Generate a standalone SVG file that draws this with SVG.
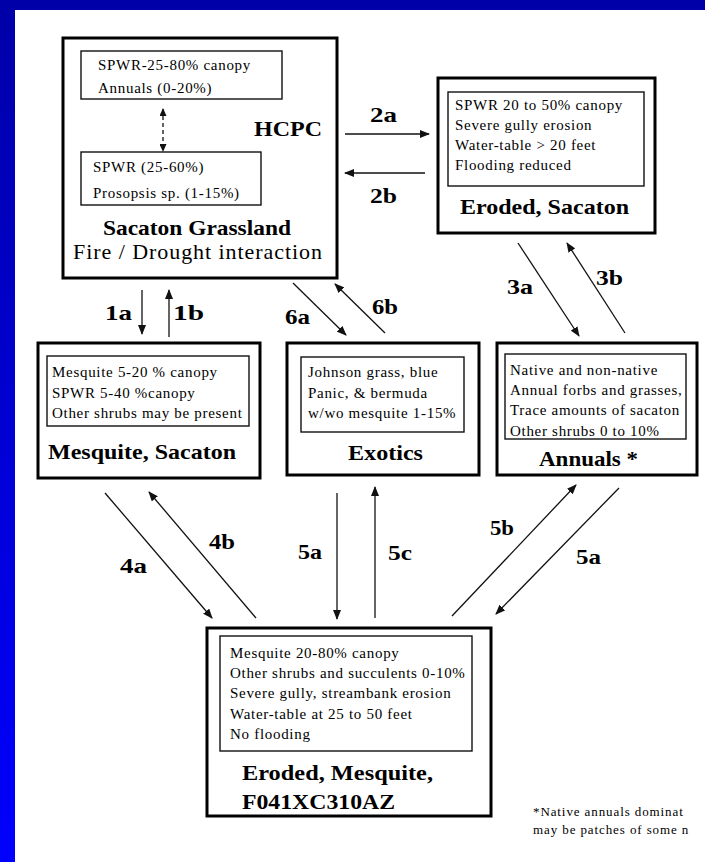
<svg xmlns="http://www.w3.org/2000/svg" width="705" height="862" viewBox="0 0 705 862">
<defs>
<linearGradient id="bg" x1="0" y1="0" x2="0" y2="1">
<stop offset="0" stop-color="#0000A8"/>
<stop offset="1" stop-color="#0000FF"/>
</linearGradient>
<marker id="ah" markerUnits="userSpaceOnUse" markerWidth="10" markerHeight="8" refX="9" refY="4" orient="auto">
<path d="M0,0 L10,4 L0,8 Z" fill="#111"/>
</marker>
<marker id="ahs" markerUnits="userSpaceOnUse" markerWidth="8" markerHeight="7" refX="7" refY="3.5" orient="auto-start-reverse">
<path d="M0,0 L8,3.5 L0,7 Z" fill="#111"/>
</marker>
<style>
.outer{fill:#fff;stroke:#000;stroke-width:3}
.inner{fill:#fff;stroke:#111;stroke-width:1.4}
.body{font-family:"Liberation Serif","Times New Roman",serif;font-size:15px;letter-spacing:0.7px;fill:#000}
.title{font-family:"Liberation Serif","Times New Roman",serif;font-weight:bold;font-size:21px;fill:#000}
.reg{font-family:"Liberation Serif","Times New Roman",serif;font-size:22px;fill:#000}
.lbl{font-family:"Liberation Serif","Times New Roman",serif;font-weight:bold;font-size:21px;fill:#000}
.conn{stroke:#111;stroke-width:1.3;fill:none;marker-end:url(#ah)}
.foot{font-family:"Liberation Serif","Times New Roman",serif;font-size:13px;letter-spacing:0.9px;fill:#000}
</style>
</defs>
<rect x="0" y="0" width="705" height="862" fill="url(#bg)"/>
<rect x="15" y="10" width="690" height="852" fill="#fff"/>

<g id="hcpc">
<rect class="outer" x="63" y="38" width="274" height="240"/>
<rect class="inner" x="81" y="51" width="201" height="48"/>
<text class="body" x="98" y="70">SPWR-25-80%  canopy</text>
<text class="body" x="98" y="93">Annuals (0-20%)</text>
<line x1="163" y1="109" x2="163" y2="151" stroke="#111" stroke-width="1.3" stroke-dasharray="4,3" marker-start="url(#ahs)" marker-end="url(#ahs)"/>
<rect class="inner" x="81" y="152" width="180" height="53"/>
<text class="body" x="93" y="172">SPWR (25-60%)</text>
<text class="body" x="93" y="198">Prosopsis sp. (1-15%)</text>
<text class="title" x="254" y="136" font-size="24" textLength="68" lengthAdjust="spacingAndGlyphs">HCPC</text>
<text class="title" x="103" y="235" font-size="20" textLength="188" lengthAdjust="spacingAndGlyphs">Sacaton Grassland</text>
<text class="reg" x="73" y="259" textLength="249">Fire / Drought interaction</text>
</g>

<g id="eroded-sacaton">
<rect class="outer" x="438" y="78" width="217" height="155"/>
<rect class="inner" x="448" y="92" width="196" height="94"/>
<text class="body" x="455" y="110">SPWR 20 to 50% canopy</text>
<text class="body" x="455" y="130">Severe gully erosion</text>
<text class="body" x="455" y="150">Water-table &gt; 20 feet</text>
<text class="body" x="455" y="170">Flooding reduced</text>
<text class="title" x="460" y="214" textLength="169" lengthAdjust="spacingAndGlyphs">Eroded, Sacaton</text>
</g>

<g id="mesquite-sacaton">
<rect class="outer" x="38" y="343" width="222" height="135"/>
<rect class="inner" x="47" y="356" width="202" height="70"/>
<text class="body" x="52" y="377">Mesquite 5-20 %  canopy</text>
<text class="body" x="52" y="398">SPWR 5-40 %canopy</text>
<text class="body" x="52" y="418">Other shrubs may be present</text>
<text class="title" x="48" y="459" textLength="188" lengthAdjust="spacingAndGlyphs">Mesquite, Sacaton</text>
</g>

<g id="exotics">
<rect class="outer" x="287" y="343" width="192" height="132"/>
<rect class="inner" x="301" y="357" width="163" height="75"/>
<text class="body" x="308" y="377">Johnson grass, blue</text>
<text class="body" x="308" y="398">Panic, &amp; bermuda</text>
<text class="body" x="308" y="418">w/wo mesquite 1-15%</text>
<text class="title" x="348" y="460" textLength="75" lengthAdjust="spacingAndGlyphs">Exotics</text>
</g>

<g id="annuals">
<rect class="outer" x="497" y="343" width="200" height="132"/>
<rect class="inner" x="505" y="354" width="181" height="85"/>
<text class="body" x="510" y="375">Native and non-native</text>
<text class="body" x="510" y="395">Annual forbs and grasses,</text>
<text class="body" x="510" y="415">Trace amounts of sacaton</text>
<text class="body" x="510" y="436">Other shrubs 0 to 10%</text>
<text class="title" x="539" y="466" textLength="99" lengthAdjust="spacingAndGlyphs">Annuals *</text>
</g>

<g id="eroded-mesquite">
<rect class="outer" x="207" y="628" width="284" height="188"/>
<rect class="inner" x="220" y="636" width="252" height="115"/>
<text class="body" x="230" y="658">Mesquite 20-80% canopy</text>
<text class="body" x="230" y="678">Other shrubs and succulents 0-10%</text>
<text class="body" x="230" y="698">Severe gully, streambank erosion</text>
<text class="body" x="230" y="719">Water-table at 25 to 50 feet</text>
<text class="body" x="230" y="739">No flooding</text>
<text class="title" x="242" y="780" textLength="191" lengthAdjust="spacingAndGlyphs">Eroded, Mesquite,</text>
<text class="title" x="242" y="809" textLength="153" lengthAdjust="spacingAndGlyphs">F041XC310AZ</text>
</g>

<g id="connectors">
<line class="conn" x1="345" y1="134" x2="429" y2="134"/>
<line class="conn" x1="425" y1="173" x2="345" y2="173"/>
<line class="conn" x1="142" y1="290" x2="142" y2="334"/>
<line class="conn" x1="169" y1="337" x2="169" y2="290"/>
<line class="conn" x1="293" y1="283" x2="346" y2="335"/>
<line class="conn" x1="385" y1="333" x2="335" y2="284"/>
<line class="conn" x1="518" y1="243" x2="579" y2="336"/>
<line class="conn" x1="625" y1="333" x2="567" y2="243"/>
<line class="conn" x1="105" y1="493" x2="212" y2="618"/>
<line class="conn" x1="256" y1="618" x2="149" y2="492"/>
<line class="conn" x1="337" y1="493" x2="337" y2="619"/>
<line class="conn" x1="375" y1="618" x2="375" y2="487"/>
<line class="conn" x1="452" y1="616" x2="576" y2="485"/>
<line class="conn" x1="619" y1="488" x2="496" y2="614"/>
<text class="lbl" x="370" y="122" textLength="27" lengthAdjust="spacingAndGlyphs">2a</text>
<text class="lbl" x="370" y="203" textLength="27" lengthAdjust="spacingAndGlyphs">2b</text>
<text class="lbl" x="105" y="320" textLength="27" lengthAdjust="spacingAndGlyphs">1a</text>
<text class="lbl" x="173" y="320" textLength="31" lengthAdjust="spacingAndGlyphs">1b</text>
<text class="lbl" x="285" y="324" textLength="25" lengthAdjust="spacingAndGlyphs">6a</text>
<text class="lbl" x="372" y="314" textLength="26" lengthAdjust="spacingAndGlyphs">6b</text>
<text class="lbl" x="507" y="294" textLength="26" lengthAdjust="spacingAndGlyphs">3a</text>
<text class="lbl" x="596" y="285" textLength="27" lengthAdjust="spacingAndGlyphs">3b</text>
<text class="lbl" x="120" y="573" textLength="27" lengthAdjust="spacingAndGlyphs">4a</text>
<text class="lbl" x="209" y="549" textLength="26" lengthAdjust="spacingAndGlyphs">4b</text>
<text class="lbl" x="298" y="559" textLength="24" lengthAdjust="spacingAndGlyphs">5a</text>
<text class="lbl" x="388" y="560" textLength="24" lengthAdjust="spacingAndGlyphs">5c</text>
<text class="lbl" x="490" y="535" textLength="24" lengthAdjust="spacingAndGlyphs">5b</text>
<text class="lbl" x="576" y="564" textLength="25" lengthAdjust="spacingAndGlyphs">5a</text>
</g>

<g id="footnote">
<text class="foot" x="533" y="816">*Native annuals dominat</text>
<text class="foot" x="533" y="834">may be patches of some n</text>
</g>
</svg>
